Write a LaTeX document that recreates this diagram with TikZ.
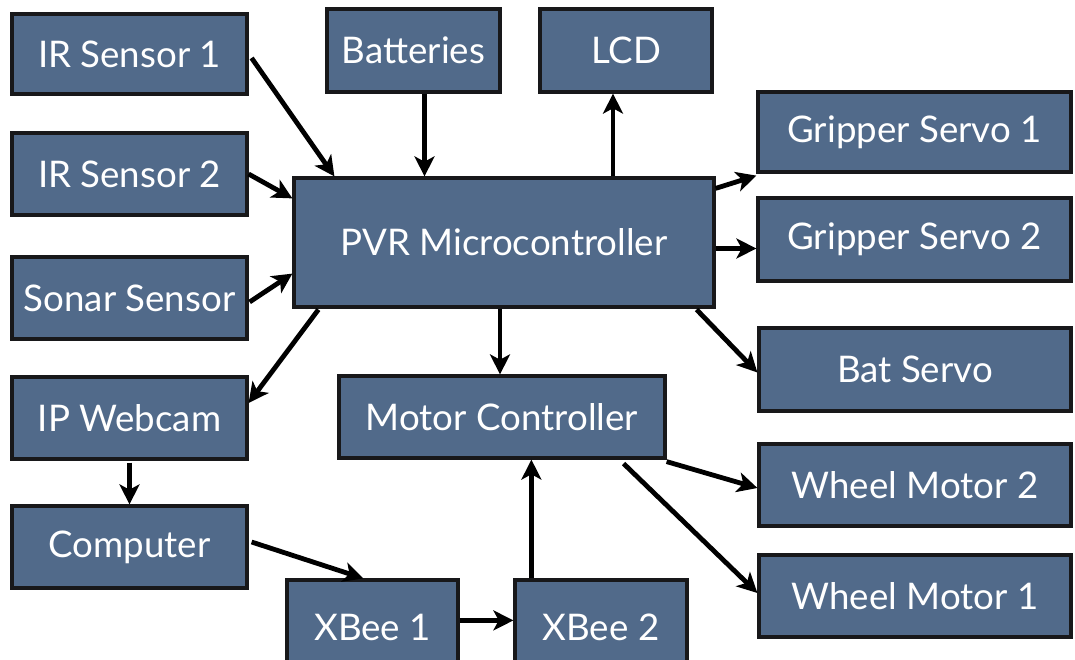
\documentclass[tikz,border=0pt]{standalone}
\usepackage{fontspec}
\setmainfont{Lato}
\usetikzlibrary{calc,arrows.meta}
\definecolor{boxfill}{RGB}{81,106,138}
\definecolor{boxline}{RGB}{24,24,26}
\tikzset{
  box/.style={draw=boxline, line width=2.4pt, fill=boxfill, text=white,
    font=\fontsize{27.5}{32}\selectfont, inner sep=0pt},
  conn/.style={line width=3.6pt, black, -{Stealth[length=15pt,width=15pt,inset=4pt]}}
}
\newcommand\bx[6]{\node[box,minimum width={(#4-#2)*0.75pt},minimum height={(#5-#3)*0.75pt}] (#1) at ({(#2+#4)/2},{(#3+#5)/2}) {#6};}
\begin{document}
\begin{tikzpicture}[x=0.75pt,y=-0.75pt]
\useasboundingbox (0,0) rectangle (1075,660);
\clip (0,0) rectangle (1075,660);
\bx{ir1}{12}{14}{247}{94}{IR Sensor 1}
\bx{ir2}{12}{133}{247}{215}{IR Sensor 2}
\bx{son}{12}{257}{247}{339}{Sonar Sensor}
\bx{ipw}{12}{377}{247}{459}{IP Webcam}
\bx{comp}{12}{506}{247}{588}{Computer}
\bx{bat}{327}{9}{500}{92}{Batteries}
\bx{lcd}{540}{9}{712}{92}{LCD}
\bx{pvr}{294}{178}{714}{307}{PVR Microcontroller}
\bx{gs1}{758}{92}{1071}{172}{Gripper Servo 1}
\bx{gs2}{758}{198}{1071}{281}{Gripper Servo 2}
\bx{bs}{759}{328}{1071}{411}{Bat Servo}
\bx{wm2}{759}{444}{1071}{526}{Wheel Motor 2}
\bx{wm1}{759}{555}{1071}{637}{Wheel Motor 1}
\bx{mc}{339}{376}{665}{458}{Motor Controller}
\bx{xb1}{287}{580}{458}{675}{XBee 1}
\bx{xb2}{515}{580}{687}{675}{XBee 2}
% connectors
\draw[conn] ($(ir1.east)+(3,4)$) -- ($(pvr.north west)+(42,0)$);
\draw[conn] (ir2.east) -- ($(pvr.north west)+(0,22)$);
\draw[conn] ($(son.east)+(1,4)$) -- ($(pvr.south west)+(0,-35)$);
\draw[conn] ($(pvr.south west)+(26,1)$) -- ($(ipw.east)+(0,-15)$);
\draw[conn] ($(ipw.south)+(0,2)$) -- (comp.north);
\draw[conn] ($(comp.east)+(3,-5)$) -- ($(xb1.north west)+(78,0)$);
\coordinate (b1) at ($(bat.south)+(11,0)$);
\draw[conn] (b1) -- (b1 |- pvr.north);
\coordinate (l1) at ($(lcd.south)+(-13,0)$);
\draw[conn] (l1 |- pvr.north) -- (l1);
\draw[conn] ($(pvr.north east)+(0,12)$) -- ($(gs1.south west)+(0,2)$);
\coordinate (g2) at ($(pvr.east)+(0,6)$);
\draw[conn] (g2) -- (g2 -| gs2.west);
\draw[conn] ($(pvr.south east)+(-19,1)$) -- ($(bs.west)+(0,3)$);
\coordinate (m1) at ($(pvr.south)+(-4,0)$);
\draw[conn] (m1) -- (m1 |- mc.north);
\coordinate (x1) at ($(xb1.north east)+(0,42)$);
\draw[conn] (x1) -- (x1 -| xb2.west);
\coordinate (x2) at ($(xb2.north west)+(18,0)$);
\draw[conn] (x2) -- (x2 |- mc.south);
\draw[conn] ($(mc.south east)+(0,2)$) -- ($(wm2.west)+(0,3)$);
\draw[conn] ($(mc.south east)+(-43,4)$) -- ($(wm1.west)+(0,-3)$);
\end{tikzpicture}
\end{document}
